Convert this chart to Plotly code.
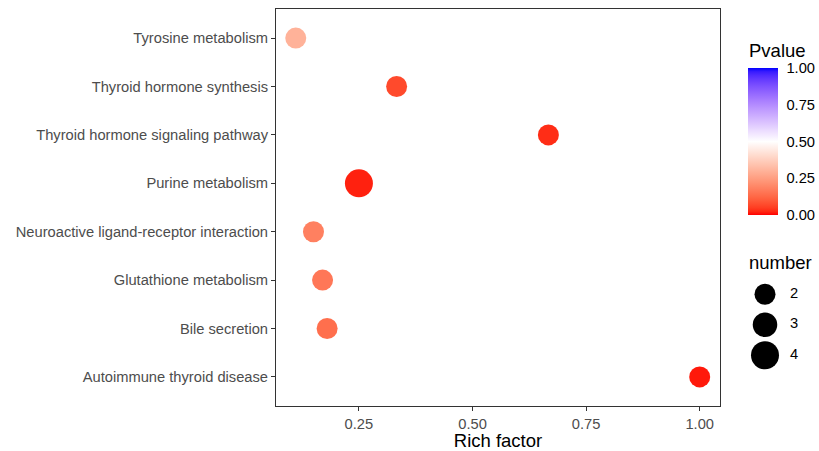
import plotly.graph_objects as go

# ---------------- data ----------------
pathways = [
    "Tyrosine metabolism",
    "Thyroid hormone synthesis",
    "Thyroid hormone signaling pathway",
    "Purine metabolism",
    "Neuroactive ligand-receptor interaction",
    "Glutathione metabolism",
    "Bile secretion",
    "Autoimmune thyroid disease",
]
rich_factor = [0.111, 0.333, 0.667, 0.25, 0.15, 0.17, 0.18, 1.0]
gene_number = [2, 2, 2, 4, 2, 2, 2, 2]
pvalue = [0.30, 0.07, 0.03, 0.02, 0.18, 0.16, 0.14, 0.015]

x_ticks = [0.25, 0.50, 0.75, 1.00]
p_ticks = [0.0, 0.25, 0.5, 0.75, 1.0]
size_legend = [2, 3, 4]

# ---------------- colour scale (Lab interpolation, like ggplot gradient2) -------------
def _lin(c):
    c = c / 255.0
    return c / 12.92 if c <= 0.04045 else ((c + 0.055) / 1.055) ** 2.4

def _gam(c):
    c = max(0.0, min(1.0, c))
    v = 12.92 * c if c <= 0.0031308 else 1.055 * c ** (1 / 2.4) - 0.055
    return int(round(v * 255))

WX, WY, WZ = 0.95047, 1.0, 1.08883

def rgb2lab(rgb):
    r, g, b = [_lin(v) for v in rgb]
    X = 0.4124 * r + 0.3576 * g + 0.1805 * b
    Y = 0.2126 * r + 0.7152 * g + 0.0722 * b
    Z = 0.0193 * r + 0.1192 * g + 0.9505 * b
    def f(t):
        return t ** (1 / 3) if t > 0.008856 else 7.787 * t + 16 / 116
    fx, fy, fz = f(X / WX), f(Y / WY), f(Z / WZ)
    return (116 * fy - 16, 500 * (fx - fy), 200 * (fy - fz))

def lab2rgb(lab):
    L, a, b = lab
    fy = (L + 16) / 116
    fx = fy + a / 500
    fz = fy - b / 200
    def fi(t):
        return t ** 3 if t ** 3 > 0.008856 else (t - 16 / 116) / 7.787
    X, Y, Z = WX * fi(fx), WY * fi(fy), WZ * fi(fz)
    r = 3.2406 * X - 1.5372 * Y - 0.4986 * Z
    g = -0.9689 * X + 1.8758 * Y + 0.0415 * Z
    bb = 0.0557 * X - 0.2040 * Y + 1.0570 * Z
    return "rgb(%d,%d,%d)" % (_gam(r), _gam(g), _gam(bb))

low, mid, high = rgb2lab((255, 0, 0)), rgb2lab((255, 255, 255)), rgb2lab((0, 0, 255))
colorscale = []
N = 40
for i in range(N + 1):
    p = i / N
    if p <= 0.5:
        t = p / 0.5
        c0, c1 = low, mid
    else:
        t = (p - 0.5) / 0.5
        c0, c1 = mid, high
    lab = tuple(c0[k] + (c1[k] - c0[k]) * t for k in range(3))
    colorscale.append([p, lab2rgb(lab)])

def dia(n):
    return 21 + (n - 2) * 3.5

FONT = "Liberation Sans, Arial, sans-serif"
TXT = 14.7
TTL = 18.5
TOP = 9
PH = 397


def py(pix):
    return 1 - (pix - TOP) / PH


fig = go.Figure()

fig.add_trace(go.Scatter(
    x=rich_factor, y=pathways, mode="markers",
    marker=dict(
        size=[dia(n) for n in gene_number],
        color=pvalue, colorscale=colorscale, cmin=0, cmax=1,
        line=dict(width=0), opacity=1,
        colorbar=dict(
            thickness=30, len=147, lenmode="pixels",
            x=(747.5 - 276) / 543, xanchor="left", xpad=0,
            y=py(141.5), yanchor="middle", ypad=0,
            outlinewidth=0,
            tickvals=p_ticks, ticktext=["%.2f" % v for v in p_ticks],
            ticks="outside", ticklen=6, tickcolor="white", tickwidth=1,
            tickfont=dict(size=TXT, color="black", family=FONT),
        ),
    ),
    showlegend=False, hoverinfo="x+y",
))

# size legend drawn on a small auxiliary axis
fig.add_trace(go.Scatter(
    x=[0] * len(size_legend), y=[str(s) for s in size_legend], mode="markers",
    marker=dict(size=[dia(s) for s in size_legend], color="black", line=dict(width=0), opacity=1),
    xaxis="x2", yaxis="y2", showlegend=False, hoverinfo="skip",
))
fig.add_trace(go.Scatter(
    x=[29] * len(size_legend), y=[str(s) for s in size_legend], mode="text",
    text=[str(s) for s in size_legend], textposition="middle center",
    textfont=dict(size=TXT, color="black", family=FONT),
    xaxis="x2", yaxis="y2", showlegend=False, hoverinfo="skip",
))

fig.add_annotation(
    text="Pvalue", xref="paper", yref="paper",
    x=(747 - 276) / 543, y=py(50), xanchor="left", yanchor="middle",
    showarrow=False, font=dict(size=TTL, color="black", family=FONT),
)
fig.add_annotation(
    text="number", xref="paper", yref="paper",
    x=(747 - 276) / 543, y=py(262), xanchor="left", yanchor="middle",
    showarrow=False, font=dict(size=TTL, color="black", family=FONT),
)

fig.update_layout(
    width=819, height=451,
    margin=dict(l=276, r=0, t=TOP, b=451 - TOP - PH, autoexpand=False),
    paper_bgcolor="white", plot_bgcolor="white",
    font=dict(family=FONT),
    xaxis=dict(
        domain=[0, 444 / 543], range=[0.0675, 1.0447],
        tickvals=x_ticks, ticktext=["%.2f" % v for v in x_ticks],
        showgrid=False, zeroline=False,
        showline=True, linecolor="#333333", linewidth=1, mirror=True,
        ticks="outside", ticklen=4, tickcolor="#333333",
        tickfont=dict(size=TXT, color="#4D4D4D", family=FONT),
        title=dict(text="Rich factor", font=dict(size=TTL, color="black", family=FONT), standoff=3),
        automargin=False,
    ),
    yaxis=dict(
        type="category", categoryorder="array", categoryarray=pathways[::-1],
        range=[-0.6, 7.6],
        showgrid=False, zeroline=False,
        showline=True, linecolor="#333333", linewidth=1, mirror=True,
        ticks="outside", ticklen=4, tickcolor="#333333",
        tickfont=dict(size=TXT, color="#4D4D4D", family=FONT),
        automargin=False,
    ),
    xaxis2=dict(
        domain=[(750 - 276) / 543, 1], range=[-15, 54], anchor="y2",
        visible=False, fixedrange=True,
    ),
    yaxis2=dict(
        domain=[py(370.5), py(279)], anchor="x2",
        type="category", categoryorder="array", categoryarray=[str(s) for s in size_legend],
        range=[2.5, -0.5], visible=False, fixedrange=True,
    ),
)

fig.write_html(
    "out.html",
    config={"displayModeBar": False},
    post_script="document.body.style.margin='0px';document.body.style.overflow='hidden';",
)
